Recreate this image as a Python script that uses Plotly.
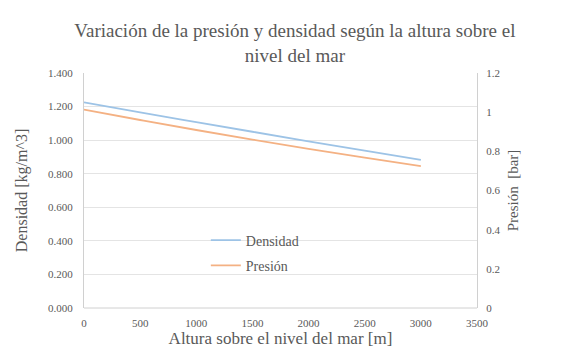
import plotly.graph_objects as go

altura = [0, 500, 1000, 1500, 2000, 2500, 3000]
densidad = [1.225, 1.165, 1.107, 1.050, 0.993, 0.937, 0.882]
presion = [1.013, 0.960, 0.909, 0.860, 0.813, 0.768, 0.725]

gris = "#595959"
fuente = "Times New Roman, Liberation Serif, DejaVu Serif, serif"

fig = go.Figure()
fig.add_trace(go.Scatter(x=altura, y=densidad, name="Densidad", mode="lines",
                         legendgroup="d",
                         line=dict(color="#9DC3E6", width=1.8, shape="spline")))
fig.add_trace(go.Scatter(x=altura, y=presion, name="Presión", mode="lines",
                         legendgroup="p",
                         line=dict(color="#F4B183", width=1.8, shape="spline"),
                         yaxis="y2"))

# la página deja 8 px de margen, por eso la figura es algo menor
fig.update_layout(
    width=556, height=345,
    margin=dict(l=76, r=87, t=65, b=45, autoexpand=False),
    paper_bgcolor="white", plot_bgcolor="white",
    font=dict(family=fuente, color=gris),
    title=dict(text="Variación de la presión y densidad según la altura sobre el<br>nivel del mar",
               x=0.516, xanchor="center", y=0.915, yanchor="top",
               font=dict(size=19, color=gris, family=fuente)),
    xaxis=dict(range=[0, 3500], dtick=500, showgrid=False, zeroline=False,
               showline=False, ticks="", tickfont=dict(size=11), automargin=False,
               ticklabelstandoff=7,
               title=dict(text="Altura sobre el nivel del mar [m]", font=dict(size=17), standoff=4)),
    yaxis=dict(range=[0, 1.4], dtick=0.2, tickformat=".3f", showgrid=True,
               gridcolor="#E4E4E4", gridwidth=1, zeroline=False, automargin=False,
               showline=True, linecolor="#D0D0D0", ticks="", tickfont=dict(size=11),
               ticklabelstandoff=8,
               title=dict(text="Densidad [kg/m^3]", font=dict(size=16), standoff=16)),
    yaxis2=dict(range=[0, 1.2], dtick=0.2, overlaying="y", side="right",
                showgrid=False, zeroline=False, showline=True, linecolor="#D0D0D0",
                ticks="", tickfont=dict(size=11), automargin=False,
                ticklabelstandoff=6,
                title=dict(text="Presión  [bar]", font=dict(size=15), standoff=8)),
    legend=dict(x=0.31, y=0.355, xanchor="left", yanchor="top",
                bgcolor="rgba(0,0,0,0)", font=dict(size=14, color=gris),
                tracegroupgap=4, itemwidth=30),
    showlegend=True,
)

# eje inferior
fig.add_shape(type="line", xref="paper", yref="paper", x0=0, x1=1, y0=0, y1=0,
              line=dict(color="#D0D0D0", width=1))

fig.write_html("out.html")
